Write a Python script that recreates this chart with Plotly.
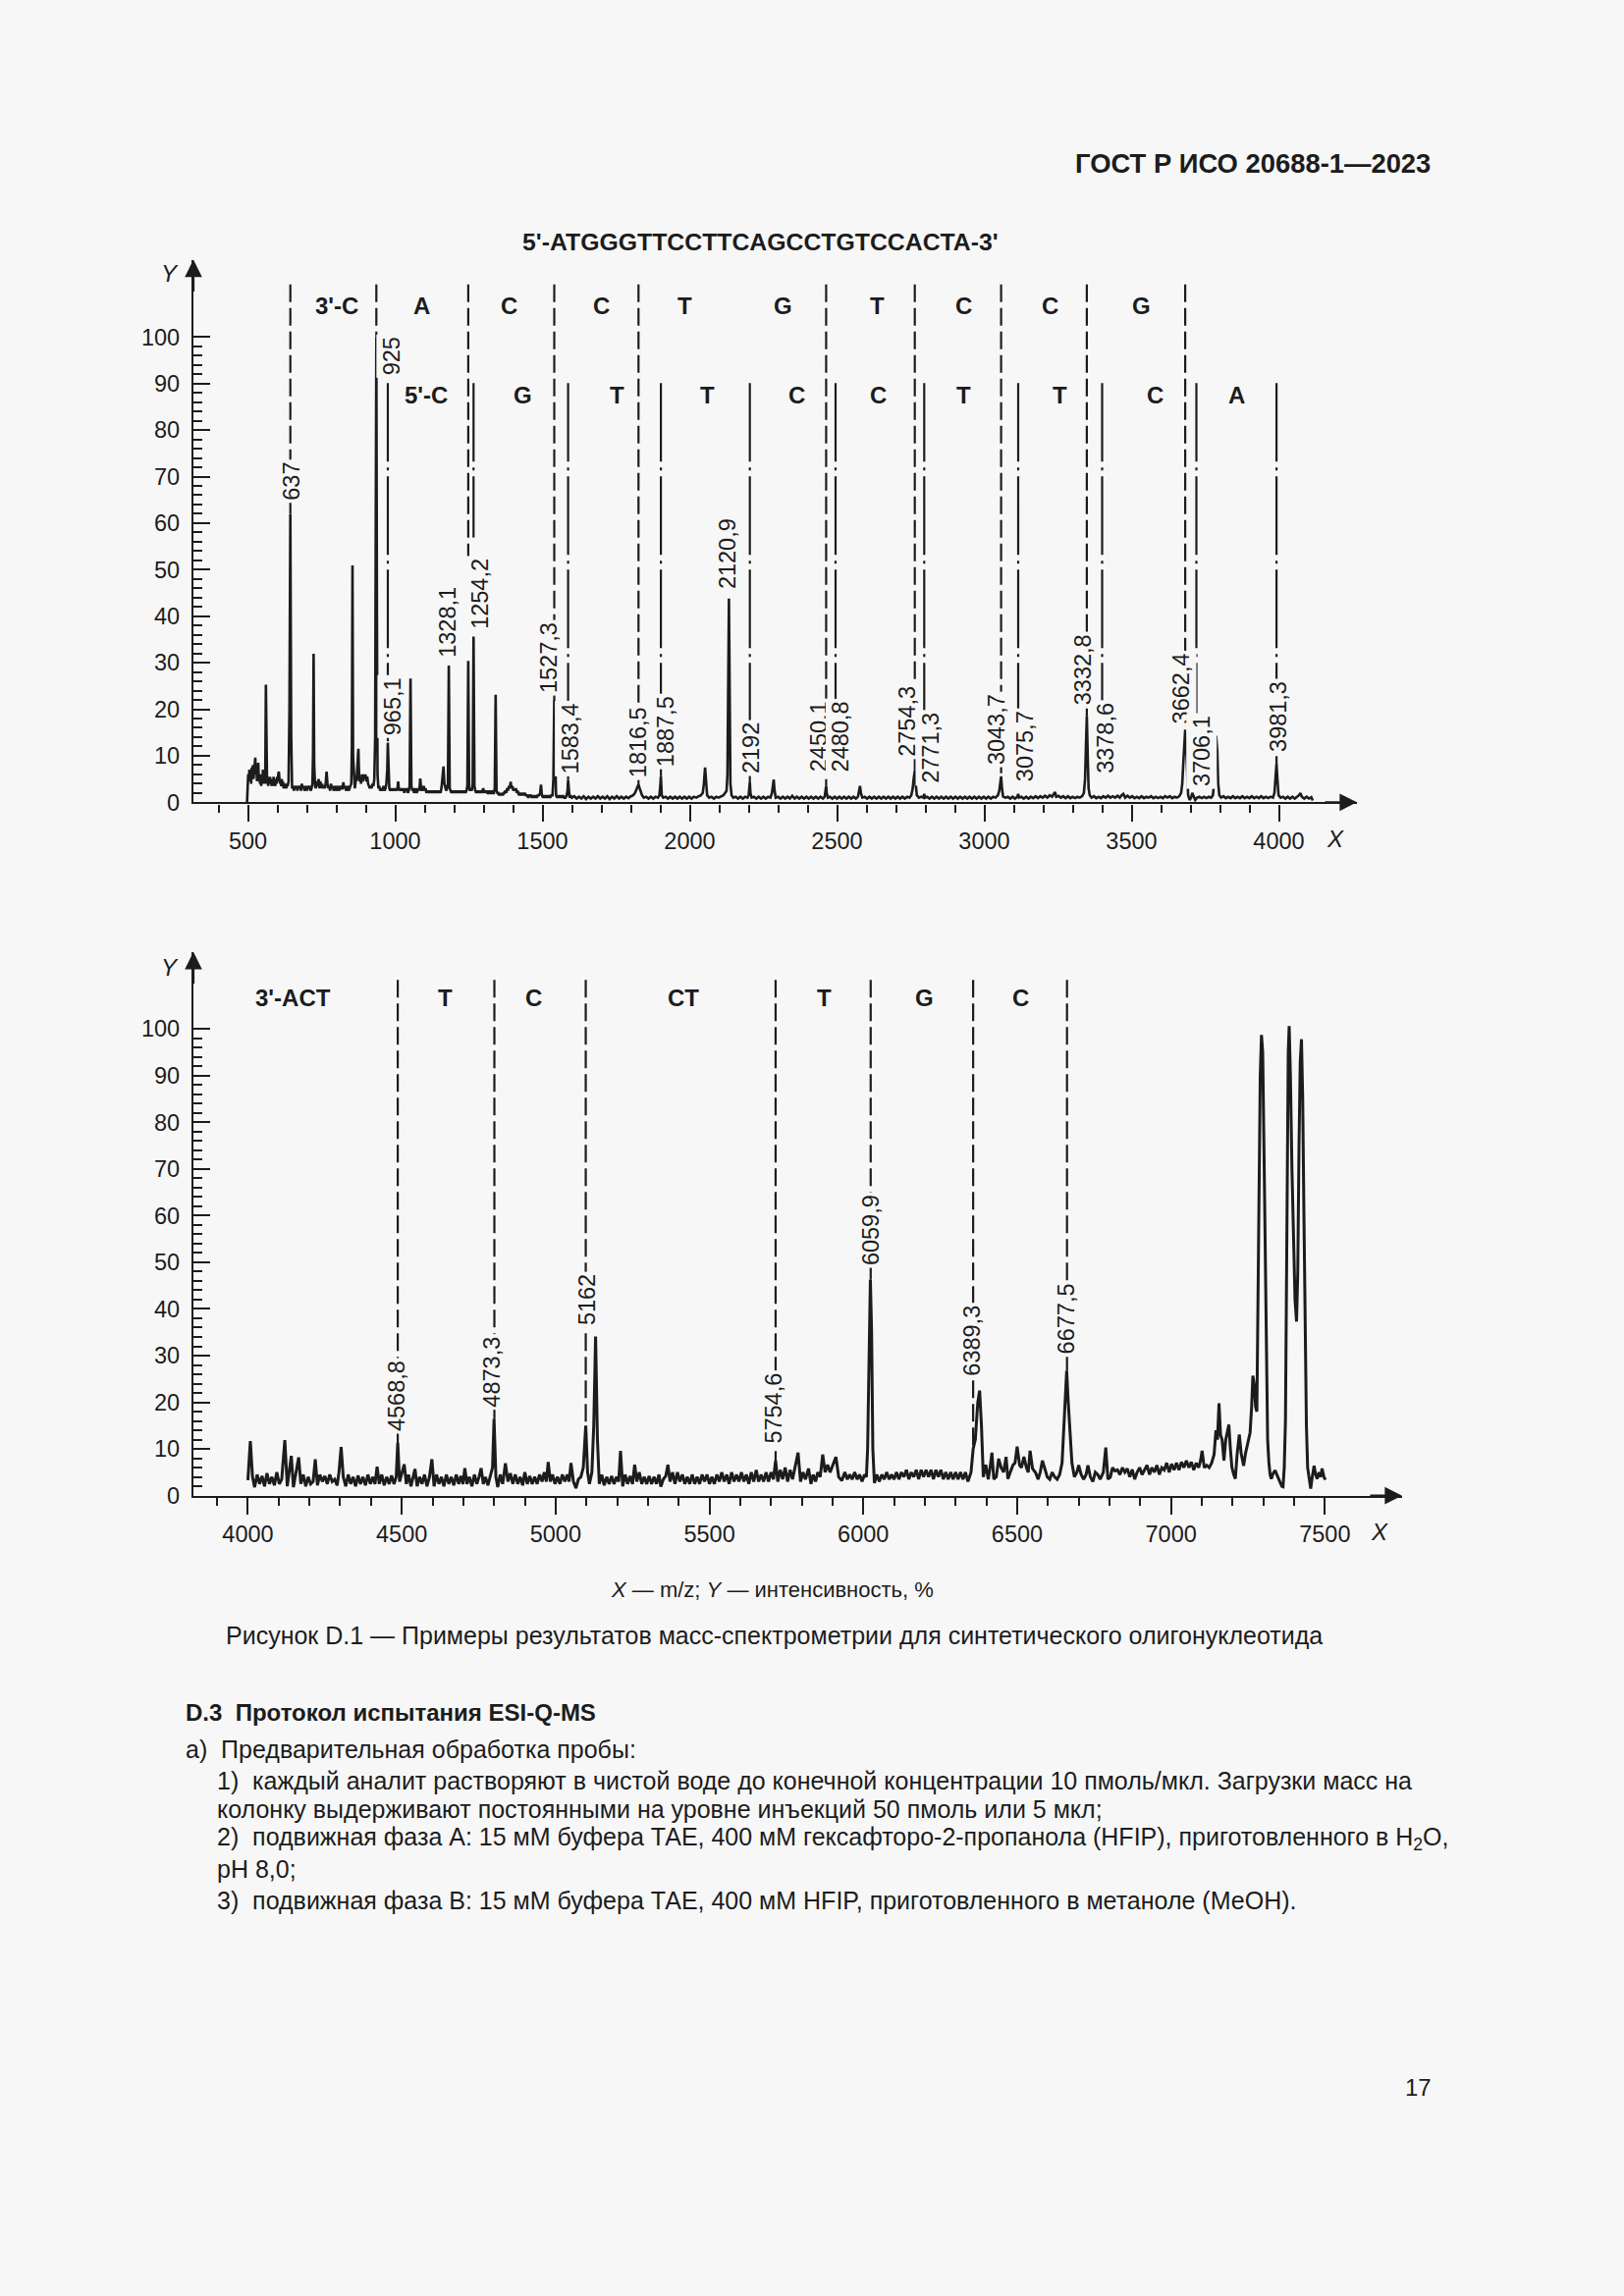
import plotly.graph_objects as go

W, H = 1654, 2339
INK = "#1c1c1c"
BG = "#f7f7f7"
FONT = "Liberation Sans, Arial, Helvetica, sans-serif"


def Y(v):
    # vertical page position (px) measured on the reference
    return 167 + (v - 167) * 1.006


def px(x):
    return x / W


def py(y):
    return 1 - Y(y) / H


# ---------------------------------------------------------------- data
# upper spectrum: (m/z, intensity %)
top_spectrum = [
    (497, 0), (499, 4), (501, 6), (503, 4.5), (505, 7), (507, 5), (509, 6.5), (511, 4), (513, 7.5), (515, 5.5),
    (517, 8), (519, 5), (521, 6.5), (523, 8.5), (525, 9.6), (527, 6), (529, 7), (531, 4.5), (533, 6), (535, 8.5),
    (537, 5), (539, 6), (541, 4), (543, 5.5), (545, 3.5), (547, 6), (549, 4.5), (551, 7), (553, 4), (555, 5),
    (557, 4), (559, 6), (561, 25.3), (563, 5), (565, 4), (567, 5.5), (569, 3.5), (571, 5), (573, 4), (575, 5.5),
    (577, 4), (579, 4.5), (581, 3.5), (583, 5), (585, 3.5), (587, 5.5), (589, 4), (591, 4.5), (593, 3.5), (595, 5),
    (597, 4), (599, 5.5), (601, 4.5), (603, 6), (605, 6.6), (607, 5), (609, 4), (611, 4.5), (613, 3.5), (615, 5),
    (617, 3.5), (619, 4.5), (621, 3), (623, 4), (625, 3), (627, 3.5), (629, 4), (631, 3), (633, 4), (635, 3.5),
    (638, 4.5), (641, 20), (644, 61.9), (647, 14), (650, 3), (653, 3.5), (656, 2.5), (659, 3.5), (662, 3), (665, 3.5),
    (668, 2.5), (671, 3.5), (674, 3), (677, 3.5), (680, 2.5), (683, 4), (686, 3), (689, 3.5), (692, 2.5), (695, 3),
    (698, 3.5), (701, 2.5), (704, 3.5), (707, 3), (710, 3.5), (713, 2.5), (716, 3), (719, 4), (721, 10), (723, 31.9),
    (725, 8), (728, 3.5), (731, 3), (734, 4.5), (737, 3.5), (740, 5), (743, 3), (746, 4.5), (749, 3), (752, 4),
    (755, 3), (758, 3.5), (761, 3), (764, 4), (767, 6.6), (770, 4), (773, 3), (776, 3.5), (779, 2.5), (782, 4),
    (785, 3), (788, 3.5), (791, 2.5), (794, 3), (797, 3.5), (800, 2.5), (803, 3), (806, 3.5), (809, 2.5), (812, 3),
    (815, 3.5), (818, 3), (821, 3), (824, 4.3), (827, 3), (830, 3.5), (833, 2.5), (836, 3), (839, 3.5), (842, 2.5),
    (845, 3), (848, 3.5), (851, 4), (853, 12), (855, 50.9), (857, 10), (860, 4), (863, 3), (866, 4.5), (869, 5),
    (872, 8), (875, 11.5), (878, 4.5), (881, 5.5), (884, 4), (887, 6), (890, 4.5), (893, 6), (896, 5), (899, 6),
    (902, 4.5), (905, 5.5), (908, 4), (911, 3.5), (914, 3), (917, 3.5), (920, 3), (923, 4), (926, 3.5), (929, 5),
    (932, 14), (934, 60), (936, 100), (938, 40), (940, 6), (943, 3), (946, 3.5), (949, 2.5), (952, 3), (955, 2.5),
    (958, 3), (961, 3.5), (964, 2.5), (967, 3), (970, 4), (973, 7), (975, 12.8), (977, 5), (980, 3), (983, 2.5),
    (986, 3), (989, 2.5), (992, 3), (995, 2.5), (998, 3), (1001, 2.5), (1004, 3), (1007, 2.5), (1010, 4.5), (1013, 2.5),
    (1016, 3), (1019, 2.5), (1022, 3), (1025, 2.5), (1028, 3), (1031, 2), (1034, 3), (1037, 2.5), (1040, 3), (1043, 2),
    (1046, 2.5), (1049, 3.5), (1052, 26.6), (1055, 3.5), (1058, 2.5), (1061, 3), (1064, 2), (1067, 2.5), (1070, 3), (1073, 2),
    (1076, 2.5), (1079, 3), (1082, 2.5), (1085, 5.1), (1088, 3), (1091, 2.5), (1094, 3), (1097, 3.5), (1100, 2.5), (1103, 3),
    (1106, 2), (1109, 2.5), (1112, 2), (1115, 2.5), (1118, 2), (1121, 2.5), (1124, 2), (1127, 2.5), (1130, 2), (1133, 2.5),
    (1136, 2), (1139, 2.5), (1142, 2), (1145, 2.5), (1148, 2), (1151, 2.5), (1154, 2), (1157, 3), (1160, 5), (1162, 6),
    (1164, 7.7), (1167, 4), (1170, 3), (1173, 2.5), (1176, 3), (1179, 4), (1182, 29.4), (1185, 3), (1188, 2.5), (1191, 2),
    (1194, 2.5), (1197, 2), (1200, 2.5), (1203, 2), (1206, 2.5), (1209, 2), (1212, 2.5), (1215, 2), (1218, 2.5), (1221, 2),
    (1224, 2.5), (1227, 2), (1230, 2.5), (1233, 2), (1236, 2.5), (1239, 2), (1242, 2.5), (1245, 3.5), (1248, 30.4), (1251, 3),
    (1254, 2.5), (1257, 3), (1260, 2.5), (1263, 4), (1266, 35.6), (1269, 3.5), (1272, 2.5), (1275, 2), (1278, 2.5), (1281, 2),
    (1284, 2.5), (1287, 2), (1290, 2.5), (1293, 2), (1296, 2.5), (1299, 3), (1302, 2), (1305, 2.5), (1308, 2), (1311, 2.5),
    (1314, 2), (1317, 2), (1320, 2.5), (1323, 2), (1326, 2), (1329, 2.5), (1332, 2), (1335, 2), (1338, 3), (1341, 23.1),
    (1344, 2.5), (1347, 2), (1350, 2), (1353, 1.5), (1356, 2), (1359, 1.5), (1362, 2), (1365, 1.5), (1368, 2), (1371, 2),
    (1374, 2.5), (1377, 2), (1380, 3), (1383, 2.5), (1386, 3.5), (1389, 3), (1392, 4.4), (1395, 3), (1398, 3.5), (1401, 2.5),
    (1404, 3), (1407, 2.5), (1410, 3), (1413, 2), (1416, 2.5), (1420, 1.5), (1424, 2), (1428, 1.5), (1432, 2), (1436, 1.5),
    (1440, 2), (1444, 1.5), (1448, 1.5), (1452, 1), (1456, 1.5), (1460, 1.5), (1464, 1), (1468, 1.5), (1472, 1), (1476, 1.5),
    (1480, 1), (1484, 1.5), (1488, 1.5), (1492, 2), (1495, 3.8), (1498, 1.5), (1502, 1), (1506, 1.5), (1510, 1), (1514, 1.5),
    (1518, 1), (1522, 1.5), (1526, 1), (1530, 1.5), (1534, 1.5), (1537, 5), (1540, 22), (1543, 5), (1546, 1.5), (1550, 1),
    (1554, 1.5), (1558, 1), (1562, 1.5), (1566, 1), (1570, 1.5), (1574, 1), (1578, 1), (1582, 1.5), (1585, 2.5), (1587, 4.8),
    (1589, 2), (1592, 1), (1596, 1.5), (1600, 1), (1608, 1.3), (1616, 0.8), (1624, 1.2), (1632, 0.8), (1640, 1.3), (1648, 0.7),
    (1656, 1.2), (1664, 0.8), (1672, 1.2), (1680, 0.8), (1688, 1.3), (1696, 0.8), (1704, 1.2), (1712, 0.8), (1720, 1.3), (1728, 0.7),
    (1736, 1.2), (1744, 0.8), (1752, 1.3), (1760, 0.8), (1768, 1.2), (1776, 0.8), (1784, 1.2), (1792, 0.9), (1800, 1.3), (1808, 1.5),
    (1814, 2), (1818, 2.5), (1822, 3.2), (1826, 3.8), (1830, 3), (1834, 2), (1838, 1.5), (1844, 1), (1852, 1.2), (1860, 0.8),
    (1868, 1.2), (1876, 0.8), (1884, 1.2), (1892, 1), (1897, 1.5), (1900, 3.5), (1902, 5.6), (1905, 1.5), (1910, 1), (1918, 1.2),
    (1926, 0.8), (1934, 1.2), (1942, 0.8), (1950, 1.2), (1958, 0.8), (1966, 1.2), (1974, 0.8), (1982, 1.2), (1990, 0.8), (1998, 1.2),
    (2006, 0.8), (2014, 1.2), (2022, 1), (2030, 1.3), (2038, 1.5), (2044, 2), (2048, 4), (2052, 7.5), (2055, 4), (2059, 1.5),
    (2066, 1), (2074, 1.2), (2082, 0.8), (2090, 1.2), (2098, 1), (2106, 1.2), (2114, 1.5), (2120, 2), (2125, 2.5), (2128, 6),
    (2131, 30), (2133, 43.8), (2135, 28), (2138, 4), (2142, 1.5), (2148, 1), (2156, 1.2), (2164, 0.8), (2172, 1.2), (2180, 0.8),
    (2188, 1.2), (2196, 1), (2200, 1.5), (2202, 3), (2204, 4.3), (2206, 2), (2210, 1), (2218, 1.2), (2226, 0.8), (2234, 1.2),
    (2242, 0.8), (2250, 1.2), (2258, 0.8), (2266, 1.2), (2274, 1), (2279, 2), (2282, 3.5), (2285, 4.9), (2288, 2.5), (2292, 1),
    (2300, 1.2), (2308, 0.8), (2316, 1.2), (2324, 0.8), (2332, 1.2), (2340, 0.8), (2348, 1.4), (2356, 0.8), (2364, 1.2), (2372, 0.8),
    (2380, 1.2), (2388, 0.8), (2396, 1.2), (2404, 0.8), (2412, 1.2), (2420, 0.8), (2428, 1.2), (2436, 0.8), (2444, 1.2), (2452, 0.8),
    (2458, 1.2), (2461, 2.5), (2463, 3.5), (2465, 2), (2469, 1), (2476, 1.2), (2484, 0.8), (2492, 1.2), (2500, 0.8), (2508, 1.2),
    (2516, 0.8), (2524, 1.2), (2532, 0.8), (2540, 1.2), (2548, 0.8), (2556, 1.2), (2564, 0.8), (2571, 1.2), (2575, 2.5), (2578, 3.5),
    (2581, 2), (2586, 1), (2594, 1.2), (2602, 0.8), (2610, 1.2), (2618, 0.8), (2626, 1.2), (2634, 0.8), (2642, 1.2), (2650, 0.8),
    (2658, 1.2), (2666, 0.8), (2674, 1.2), (2682, 0.8), (2690, 1.2), (2698, 0.8), (2706, 1.2), (2714, 0.8), (2722, 1.2), (2730, 0.8),
    (2738, 1.2), (2746, 1), (2752, 1.5), (2757, 3), (2760, 5), (2764, 6.8), (2767, 4), (2771, 1.5), (2778, 1), (2786, 1.2),
    (2793, 1), (2796, 1.8), (2799, 1), (2806, 1.2), (2814, 0.8), (2822, 1.2), (2830, 0.8), (2838, 1.2), (2846, 0.8), (2854, 1.2),
    (2862, 0.8), (2870, 1.2), (2878, 0.8), (2886, 1.2), (2894, 0.8), (2902, 1.2), (2910, 0.8), (2918, 1.2), (2926, 0.8), (2934, 1.2),
    (2942, 0.8), (2950, 1.2), (2958, 0.8), (2966, 1.2), (2974, 0.8), (2982, 1.2), (2990, 0.8), (2998, 1.2), (3006, 0.8), (3014, 1.2),
    (3022, 0.8), (3030, 1.2), (3038, 1), (3046, 1.5), (3051, 2.5), (3054, 4), (3057, 5.6), (3060, 3), (3064, 1.2), (3072, 1),
    (3080, 1.2), (3088, 0.8), (3096, 1.2), (3104, 0.8), (3112, 1.2), (3115, 1.8), (3118, 1), (3126, 1.2), (3134, 0.8), (3142, 1.2),
    (3150, 0.8), (3158, 1.2), (3166, 0.9), (3174, 1.3), (3182, 0.9), (3190, 1.3), (3198, 1), (3206, 1.4), (3214, 1), (3222, 1.5),
    (3230, 1.2), (3236, 1.8), (3240, 2.2), (3244, 1.2), (3252, 1.4), (3260, 1), (3268, 1.3), (3276, 0.9), (3284, 1.3), (3292, 0.9),
    (3300, 1.2), (3308, 0.9), (3316, 1.2), (3324, 1), (3332, 1.3), (3338, 2), (3342, 5), (3345, 12), (3348, 18.5), (3351, 10),
    (3354, 3), (3358, 1.5), (3364, 1), (3372, 1.3), (3380, 0.9), (3388, 1.2), (3396, 0.9), (3404, 1.3), (3412, 1), (3420, 1.4),
    (3428, 1), (3436, 1.3), (3444, 1), (3452, 1.4), (3460, 1), (3466, 1.5), (3472, 1.8), (3478, 1), (3486, 1.4), (3494, 1),
    (3502, 1.3), (3510, 0.9), (3518, 1.2), (3526, 0.9), (3534, 1.3), (3542, 0.9), (3550, 1.2), (3558, 1), (3566, 1.3), (3574, 0.9),
    (3582, 1.2), (3590, 0.9), (3598, 1.2), (3606, 0.9), (3614, 1.3), (3622, 1), (3630, 1.3), (3638, 0.9), (3646, 1.2), (3654, 1),
    (3662, 1.3), (3668, 2), (3672, 4), (3676, 9), (3679, 13), (3682, 15.6), (3685, 12), (3688, 5), (3692, 1.5), (3697, 0.5),
    (3702, 1), (3706, 2), (3710, 1.2), (3716, 0.5), (3722, 1), (3730, 1.2), (3738, 0.9), (3746, 1.2), (3754, 0.9), (3762, 1.2),
    (3770, 1), (3776, 1.5), (3780, 4), (3783, 10), (3787, 14.3), (3791, 11), (3794, 4), (3798, 1.5), (3804, 1), (3812, 1.3),
    (3820, 0.9), (3828, 1.2), (3836, 0.9), (3844, 1.3), (3852, 0.9), (3860, 1.2), (3868, 0.9), (3876, 1.3), (3884, 0.9), (3892, 1.2),
    (3900, 0.9), (3908, 1.3), (3916, 0.9), (3924, 1.2), (3932, 0.9), (3940, 1.3), (3948, 0.9), (3956, 1.2), (3964, 0.9), (3972, 1.2),
    (3980, 1), (3985, 2), (3989, 5), (3992, 8.3), (3995, 5), (3999, 1.5), (4006, 1), (4014, 1.2), (4022, 0.8), (4030, 1.2),
    (4038, 0.8), (4046, 1.2), (4054, 0.8), (4062, 1.2), (4068, 1.5), (4073, 2), (4078, 1.2), (4086, 0.8), (4094, 1.2), (4102, 0.8),
    (4110, 1.1), (4115, 0.4),
]

# lower spectrum: (m/z, intensity %)
bottom_spectrum = [
    (4000, 3.3), (4008, 11.7), (4015, 4), (4022, 1.8), (4030, 4.5), (4038, 2.5), (4046, 4.2), (4054, 2), (4062, 4.8), (4070, 2.5),
    (4078, 4), (4086, 2.2), (4094, 5), (4102, 2.5), (4110, 3.5), (4120, 11.9), (4128, 2), (4135, 5), (4141, 8.5), (4148, 1.8),
    (4156, 4.5), (4165, 8.2), (4172, 2.5), (4180, 4.5), (4188, 2), (4196, 4), (4204, 2.5), (4212, 3), (4219, 7.8), (4226, 2.2),
    (4234, 4.5), (4242, 3), (4250, 4.2), (4258, 2.5), (4266, 4.5), (4274, 3), (4282, 3.5), (4290, 2.2), (4296, 5), (4303, 10.4),
    (4310, 4), (4318, 2), (4326, 4.5), (4334, 2.5), (4342, 4), (4350, 2), (4358, 4.3), (4366, 2.5), (4374, 4), (4382, 2.2),
    (4390, 4.5), (4398, 2.5), (4406, 4), (4413, 2.5), (4420, 6.2), (4427, 2.5), (4435, 4.5), (4443, 2.2), (4451, 4), (4459, 2.5),
    (4467, 4.3), (4475, 2.5), (4482, 4), (4487, 11.3), (4493, 3), (4500, 4.5), (4508, 6.7), (4515, 2.5), (4522, 4.5), (4530, 2),
    (4537, 4), (4543, 5.7), (4550, 2), (4558, 4), (4566, 2.5), (4574, 4.5), (4582, 2), (4590, 4), (4598, 7.8), (4605, 2),
    (4613, 4.5), (4621, 2.5), (4629, 4), (4637, 2), (4645, 4.5), (4653, 2.5), (4661, 4), (4669, 2.2), (4677, 4.5), (4685, 2.5),
    (4692, 4.2), (4699, 2.5), (4705, 5.9), (4712, 2.5), (4720, 4), (4728, 2), (4736, 4.5), (4744, 2.5), (4751, 4), (4758, 5.9),
    (4765, 2.5), (4772, 4), (4780, 2.2), (4788, 4), (4795, 6), (4800, 16.4), (4806, 4), (4812, 1.8), (4820, 4.5), (4828, 2.5),
    (4837, 6.9), (4845, 3), (4853, 4.8), (4861, 2.5), (4869, 4.5), (4877, 2.5), (4885, 4), (4893, 2.2), (4900, 5), (4908, 2.5),
    (4916, 4.2), (4924, 2.5), (4932, 4), (4940, 2.5), (4948, 4.5), (4956, 3), (4963, 5), (4970, 3), (4976, 7.2), (4983, 3),
    (4990, 4.5), (4998, 2.5), (5006, 4), (5014, 2.5), (5022, 4.5), (5030, 3), (5038, 4.5), (5044, 3), (5050, 7), (5058, 3),
    (5066, 1.6), (5074, 3.5), (5082, 4), (5090, 6), (5098, 15), (5104, 5), (5110, 2.5), (5118, 5), (5124, 15), (5130, 34.1),
    (5136, 12), (5142, 2.5), (5150, 4.5), (5158, 2.2), (5166, 4), (5174, 2.5), (5182, 4.2), (5190, 2.5), (5198, 4), (5205, 3),
    (5211, 9.6), (5218, 2), (5226, 4.5), (5234, 2.5), (5242, 4.2), (5250, 2.5), (5257, 6.6), (5264, 3), (5272, 5), (5280, 2.5),
    (5288, 4), (5296, 2.5), (5304, 4.2), (5312, 2.5), (5320, 4), (5328, 2.5), (5336, 4.5), (5342, 1.9), (5350, 3.5), (5358, 4.2),
    (5365, 6.6), (5372, 3), (5380, 5), (5388, 2.5), (5396, 5), (5404, 3), (5412, 4.5), (5420, 2.5), (5428, 4), (5436, 2.5),
    (5444, 4.5), (5452, 2.5), (5460, 4), (5468, 2.5), (5476, 4.5), (5484, 3), (5492, 4.5), (5500, 2.5), (5508, 4), (5516, 2.5),
    (5524, 4.5), (5532, 3), (5540, 5), (5548, 3), (5556, 4.5), (5564, 2.5), (5572, 5), (5580, 3), (5588, 4.5), (5596, 3),
    (5604, 5), (5612, 3), (5620, 4.5), (5628, 2.5), (5636, 5), (5644, 3), (5652, 5.5), (5660, 3), (5668, 4.5), (5676, 3),
    (5684, 5), (5692, 3), (5700, 5), (5708, 3.5), (5715, 7.5), (5722, 3), (5730, 5.5), (5738, 3.5), (5746, 6), (5754, 3),
    (5762, 5.5), (5770, 3.5), (5778, 6), (5788, 9.2), (5796, 3), (5804, 5), (5812, 3.5), (5822, 5.8), (5830, 2.5), (5837, 4.5),
    (5845, 3), (5852, 5), (5860, 4), (5868, 8.8), (5876, 5), (5884, 6.6), (5892, 5), (5900, 6.5), (5911, 8.3), (5920, 4),
    (5930, 3.2), (5940, 5), (5948, 3.5), (5956, 4.5), (5964, 3.5), (5972, 5), (5980, 3.5), (5988, 4.5), (5996, 3), (6004, 4.5),
    (6010, 4), (6014, 10), (6018, 30), (6023, 46.3), (6027, 35), (6031, 10), (6036, 2.7), (6044, 4.5), (6052, 3), (6060, 4.5),
    (6068, 3.5), (6076, 5), (6084, 3.5), (6092, 4.5), (6100, 3.5), (6108, 5), (6116, 3.5), (6124, 5), (6132, 4), (6140, 5.5),
    (6148, 3.5), (6156, 5), (6164, 4), (6172, 5.5), (6180, 3.5), (6188, 5.5), (6196, 4), (6204, 5.5), (6212, 4), (6220, 5.5),
    (6228, 3.5), (6236, 5.5), (6244, 4), (6252, 5.5), (6260, 3.5), (6268, 5), (6276, 3.5), (6284, 5), (6292, 3.5), (6300, 5),
    (6308, 3.5), (6316, 5), (6324, 3.5), (6332, 5), (6340, 3), (6350, 5), (6357, 10), (6364, 12), (6372, 20), (6378, 22.5),
    (6384, 15), (6390, 4), (6398, 6.6), (6406, 3.5), (6412, 6), (6418, 9.2), (6424, 3.5), (6432, 4), (6440, 7.9), (6448, 6),
    (6456, 5), (6464, 8.3), (6470, 3.6), (6478, 5), (6486, 6.5), (6493, 7), (6500, 10.5), (6508, 6.5), (6514, 6), (6522, 8.3),
    (6530, 6), (6536, 5), (6542, 9.6), (6550, 5.8), (6560, 4.9), (6568, 3.5), (6575, 5), (6582, 7.5), (6590, 5.5), (6598, 4),
    (6606, 3.5), (6614, 5), (6622, 4), (6630, 3.5), (6638, 4.5), (6646, 7), (6652, 15), (6658, 25), (6661, 26.8), (6666, 20),
    (6672, 12), (6678, 7), (6686, 4), (6694, 5), (6700, 6.5), (6708, 4.5), (6716, 3.5), (6724, 4.5), (6730, 6.5), (6738, 4),
    (6746, 3), (6754, 5), (6762, 4.5), (6770, 3.5), (6780, 5), (6788, 10.3), (6795, 3.5), (6803, 4), (6810, 6), (6818, 5.3),
    (6826, 5.5), (6834, 4.5), (6842, 6), (6850, 5), (6858, 5.8), (6866, 4), (6874, 5.6), (6882, 3.5), (6890, 5), (6898, 6),
    (6906, 4.5), (6914, 5.5), (6922, 6.5), (6930, 4.5), (6938, 6), (6946, 5), (6954, 6.5), (6962, 4.5), (6970, 6), (6978, 5.5),
    (6986, 7), (6994, 5), (7002, 6.8), (7010, 5.5), (7018, 7), (7026, 5.5), (7034, 7.2), (7042, 6), (7050, 7.5), (7058, 6),
    (7066, 7.2), (7074, 5.5), (7082, 7), (7090, 6), (7096, 7.5), (7101, 9.6), (7108, 6), (7116, 6.5), (7124, 6), (7132, 7),
    (7140, 8.8), (7146, 14), (7151, 12), (7156, 19.8), (7161, 13), (7166, 12), (7172, 7.5), (7178, 12), (7183, 14), (7188, 15.2),
    (7193, 10), (7198, 6), (7204, 4.5), (7209, 3.6), (7215, 9), (7222, 13.1), (7228, 9), (7236, 6.4), (7242, 9), (7248, 11),
    (7253, 12.5), (7257, 13.5), (7262, 19), (7266, 25.7), (7270, 24), (7275, 19), (7279, 18), (7283, 40), (7286, 68.9), (7290, 90),
    (7294, 98.7), (7298, 95), (7302, 75), (7306, 51.3), (7310, 28), (7314, 12), (7318, 7.2), (7322, 4.5), (7326, 3.6), (7332, 4.8),
    (7338, 5.4), (7344, 4.5), (7352, 3), (7360, 2), (7364, 1.9), (7368, 6), (7372, 16.3), (7375, 40), (7378, 75), (7381, 95),
    (7384, 100.6), (7388, 90), (7393, 70), (7398, 55), (7403, 42), (7408, 37.3), (7412, 48), (7416, 75), (7420, 93), (7424, 97.8),
    (7428, 85), (7432, 60), (7436, 35), (7440, 15), (7444, 6), (7449, 3.6), (7454, 1.5), (7459, 4), (7465, 6.4), (7470, 4.5),
    (7475, 3.6), (7481, 5), (7486, 4), (7491, 5.8), (7497, 4), (7502, 3.4),
]

# marker lines of the upper panel (m/z position, lower end in %)
top_dash_mz = [644, 936, 1248, 1540, 1826, 2463, 2764, 3057, 3348, 3682]
top_dash_end = [61.9, 100, 51.9, 22, 3.8, 3.5, 6.8, 5.6, 18.5, 15.6]
top_dash_start = 111.3
top_dashdot_mz = [975, 1266, 1587, 1902, 2204, 2495, 2796, 3115, 3400, 3720, 3992]
top_dashdot_end = [12.8, 56.9, 4.8, 5.6, 4.3, 6, 4.5, 4.5, 6.5, 4, 8.3]
top_dashdot_start = 90.1

# peak labels of the upper panel
top_peak_text = ["637", "925", "1254,2", "1328,1", "1527,3", "1816,5", "2450,1", "2120,9",
                 "965,1", "1583,4", "1887,5", "2192", "2480,8", "2754,3", "2771,3", "3043,7",
                 "3075,7", "3332,8", "3378,6", "3662,4", "3706,1", "3981,3"]
top_peak_mz = [650, 987, 1288, 1178, 1524, 1825, 2439, 2128,
               992, 1595, 1918, 2209, 2513, 2740, 2818, 3044,
               3139, 3335, 3413, 3669, 3738, 3996]
top_peak_y = [69.0, 95.9, 44.8, 38.7, 31.0, 12.9, 14.2, 53.4,
              20.5, 13.7, 15.2, 11.7, 14.2, 17.3, 11.7, 15.6,
              12.1, 28.5, 13.9, 24.5, 11.0, 18.5]

# sequence letters of the upper panel
top_row1_text = ["3'-C", "A", "C", "C", "T", "G", "T", "C", "C", "G"]
top_row1_mz = [802, 1091, 1385, 1700, 1983, 2317, 2635, 2931, 3222, 3532]
top_row1_y = 106.8
top_row2_text = ["5'-C", "G", "T", "T", "C", "C", "T", "T", "C", "A"]
top_row2_mz = [1106, 1434, 1754, 2059, 2363, 2639, 2929, 3258, 3579, 3855]
top_row2_y = 87.5

# lower panel marker lines, labels and letters
bottom_dash_mz = [4487, 4801, 5098, 5715, 6024, 6357, 6662]
bottom_dash_end = [11.3, 16.4, 15, 7.5, 46.3, 10, 26.8]
bottom_dash_start = 110.5
bottom_peak_text = ["4568,8", "4873,3", "5162", "5754,6", "6059,9", "6389,3", "6677,5"]
bottom_peak_mz = [4484, 4793, 5103, 5710, 6023, 6353, 6661]
bottom_peak_y = [21.4, 26.5, 42.0, 18.8, 57.0, 33.2, 38.0]
bottom_row_text = ["3'-ACT", "T", "C", "CT", "T", "G", "C"]
bottom_row_mz = [4148, 4643, 4929, 5415, 5873, 6199, 6511]
bottom_row_y = 106.7

# axes
top_xticks = [500, 1000, 1500, 2000, 2500, 3000, 3500, 4000]
bottom_xticks = [4000, 4500, 5000, 5500, 6000, 6500, 7000, 7500]
yticks = [0, 10, 20, 30, 40, 50, 60, 70, 80, 90, 100]
top_xrange = [315, 4265]
bottom_xrange = [3823, 7751]
top_yrange = [0, 116.6]
bottom_yrange = [0, 116.5]

sequence_title = "5'-ATGGGTTCCTTCAGCCTGTCCACTA-3'"

# ---------------------------------------------------------------- figure
fig = go.Figure()


def vlines(mz, start, end):
    xs, ys = [], []
    for m, e in zip(mz, end):
        xs += [m, m, None]
        ys += [start, e, None]
    return xs, ys


# upper panel
fig.add_trace(go.Scatter(x=[p[0] for p in top_spectrum], y=[p[1] for p in top_spectrum],
                         mode="lines", line=dict(color=INK, width=2.6), xaxis="x", yaxis="y"))
xs, ys = vlines(top_dash_mz, top_dash_start, top_dash_end)
fig.add_trace(go.Scatter(x=xs, y=ys, mode="lines", line=dict(color=INK, width=2.2, dash="18px,6px"),
                         xaxis="x", yaxis="y"))
xs, ys = vlines(top_dashdot_mz, top_dashdot_start, top_dashdot_end)
fig.add_trace(go.Scatter(x=xs, y=ys, mode="lines", line=dict(color=INK, width=2.2, dash="80px,6px,3px,6px"),
                         xaxis="x", yaxis="y"))

# lower panel
fig.add_trace(go.Scatter(x=[p[0] for p in bottom_spectrum], y=[p[1] for p in bottom_spectrum],
                         mode="lines", line=dict(color=INK, width=3), xaxis="x2", yaxis="y2"))
xs, ys = vlines(bottom_dash_mz, bottom_dash_start, bottom_dash_end)
fig.add_trace(go.Scatter(x=xs, y=ys, mode="lines", line=dict(color=INK, width=2.2, dash="18px,6px"),
                         xaxis="x2", yaxis="y2"))

ann = []
LBL = dict(family=FONT, size=23.5, color=INK)


def peak_labels(texts, mzs, ys, xr, yr):
    for t, m, y in zip(texts, mzs, ys):
        ann.append(dict(x=m, y=y, xref=xr, yref=yr, text=t, textangle=-90, showarrow=False,
                        xanchor="center", yanchor="middle", font=LBL, bgcolor=BG, borderpad=2))


def letters(texts, mzs, y, xr, yr):
    for t, m in zip(texts, mzs):
        ann.append(dict(x=m, y=y, xref=xr, yref=yr, text=f"<b>{t}</b>", showarrow=False,
                        xanchor="center", yanchor="middle", font=dict(family=FONT, size=24, color=INK)))


peak_labels(top_peak_text, top_peak_mz, top_peak_y, "x", "y")
letters(top_row1_text, top_row1_mz, top_row1_y, "x", "y")
letters(top_row2_text, top_row2_mz, top_row2_y, "x", "y")
peak_labels(bottom_peak_text, bottom_peak_mz, bottom_peak_y, "x2", "y2")
letters(bottom_row_text, bottom_row_mz, bottom_row_y, "x2", "y2")

# axis arrows
for xr, yr, xmax, ymax, xmin in [("x", "y", top_xrange[1], top_yrange[1], top_xrange[0]),
                                 ("x2", "y2", bottom_xrange[1], bottom_yrange[1], bottom_xrange[0])]:
    ann.append(dict(x=xmax, y=0, xref=xr, yref=yr, ax=-34, ay=0, text="", showarrow=True,
                    arrowhead=2, arrowsize=1.6, arrowwidth=2.2, arrowcolor=INK))
    ann.append(dict(x=xmin, y=ymax, xref=xr, yref=yr, ax=0, ay=34, text="", showarrow=True,
                    arrowhead=2, arrowsize=1.6, arrowwidth=2.2, arrowcolor=INK))


def page_text(x, y, text, size=23, anchor="left", bold=False):
    t = f"<b>{text}</b>" if bold else text
    ann.append(dict(x=px(x), y=py(y), xref="paper", yref="paper", text=t, showarrow=False,
                    xanchor=anchor, yanchor="middle", font=dict(family=FONT, size=size, color=INK)))


# axis names
page_text(173, 279, "<i>Y</i>", 24, "center")
page_text(1360, 855, "<i>X</i>", 24, "center")
page_text(173, 986, "<i>Y</i>", 24, "center")
page_text(1405, 1561, "<i>X</i>", 24, "center")

# sequence title, header, captions and body text
BODY = 25
page_text(774, 247, sequence_title, 24.8, "center", bold=True)
page_text(1459, 167, "ГОСТ Р ИСО 20688-1—2023", 27.4, "right", bold=True)
page_text(786, 1620, "<i>X</i> — m/z; <i>Y</i> — интенсивность, %", 22, "center")
page_text(788, 1666, "Рисунок D.1 — Примеры результатов масс-спектрометрии для синтетического олигонуклеотида", BODY, "center")
page_text(187, 1745, "D.3\u00a0 Протокол испытания ESI-Q-MS", 24, bold=True)
page_text(187, 1782, "а)\u00a0 Предварительная обработка пробы:", BODY)
page_text(219, 1814, "1)\u00a0 каждый аналит растворяют в чистой воде до конечной концентрации 10 пмоль/мкл. Загрузки масс на", BODY)
page_text(219, 1843, "колонку выдерживают постоянными на уровне инъекций 50 пмоль или 5 мкл;", BODY)
page_text(219, 1873, "2)\u00a0 подвижная фаза А: 15 мМ буфера ТАЕ, 400 мМ гексафторо-2-пропанола (HFIP), приготовленного в H<sub>2</sub>O,", BODY)
page_text(219, 1904, "pH 8,0;", BODY)
page_text(219, 1936, "3)\u00a0 подвижная фаза В: 15 мМ буфера ТАЕ, 400 мМ HFIP, приготовленного в метаноле (МеОН).", BODY)
page_text(1460, 2127, "17", 24, "right")

TICKFONT = dict(family=FONT, size=23.5, color=INK)


def yaxis_cfg(dom, rng):
    return dict(domain=dom, range=rng, showline=True, linecolor=INK, linewidth=2.4, showgrid=False,
                zeroline=False, tickmode="array", tickvals=yticks, ticktext=[str(v) for v in yticks],
                ticks="inside", ticklen=17, tickwidth=2.2, tickcolor=INK, tickfont=TICKFONT,
                ticklabelstandoff=7, fixedrange=True,
                minor=dict(tickmode="array", tickvals=[v for v in range(2, 100, 2) if v % 10],
                           ticks="inside", ticklen=8.5, tickwidth=2, tickcolor=INK))


def xaxis_cfg(dom, rng, ticks, minor_vals, anchor):
    return dict(domain=dom, range=rng, anchor=anchor, showline=True, linecolor=INK, linewidth=2.4,
                showgrid=False, zeroline=False, tickmode="array", tickvals=ticks,
                ticktext=[str(v) for v in ticks], ticks="outside", ticklen=17, tickwidth=2.2,
                tickcolor=INK, tickfont=TICKFONT, fixedrange=True,
                minor=dict(tickmode="array", tickvals=minor_vals, ticks="outside", ticklen=8.5,
                           tickwidth=2, tickcolor=INK))


top_minor = [v for v in range(400, 4001, 100) if v % 500]
bottom_minor = [v for v in range(3900, 7501, 100) if v % 500]

fig.update_layout(
    width=W, height=H, margin=dict(l=0, r=0, t=0, b=0),
    paper_bgcolor=BG, plot_bgcolor=BG, showlegend=False,
    font=dict(family=FONT, color=INK),
    xaxis=xaxis_cfg([197 / W, 1382 / W], top_xrange, top_xticks, top_minor, "y"),
    yaxis=yaxis_cfg([py(818), py(265.5)], top_yrange) | dict(anchor="x"),
    xaxis2=xaxis_cfg([197 / W, 1428 / W], bottom_xrange, bottom_xticks, bottom_minor, "y2"),
    yaxis2=yaxis_cfg([py(1524), py(970.4)], bottom_yrange) | dict(anchor="x2"),
    annotations=ann,
)

fig.write_html(
    "out.html",
    config={"displayModeBar": False},
    post_script="document.body.style.margin='0';document.body.style.background='#f7f7f7';"
                "document.documentElement.style.background='#f7f7f7';",
)
